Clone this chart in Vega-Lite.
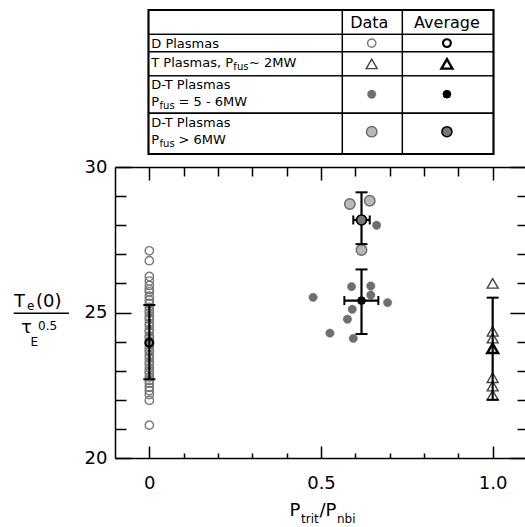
{
  "$schema": "https://vega.github.io/schema/vega-lite/v6.json",
  "background": "white",
  "padding": {"left": 12, "top": 9, "right": 0, "bottom": 0},
  "config": {
    "font": "DejaVu Sans",
    "view": {"stroke": null},
    "axis": {"labelFont": "DejaVu Sans", "labelFontSize": 18, "labelColor": "black", "tickColor": "black", "domainColor": "black", "tickWidth": 1.5, "domainWidth": 1.5, "grid": false, "labelFlush": false, "labelOverlap": false}
  },
  "datasets": {
    "pts": [
      {"x": 0, "y": 27.12, "kind": "D"}, {"x": 0, "y": 26.78, "kind": "D"}, {"x": 0, "y": 26.24, "kind": "D"}, {"x": 0, "y": 26.08, "kind": "D"},
      {"x": 0, "y": 25.93, "kind": "D"}, {"x": 0, "y": 25.79, "kind": "D"}, {"x": 0, "y": 25.71, "kind": "D"}, {"x": 0, "y": 25.56, "kind": "D"},
      {"x": 0, "y": 25.42, "kind": "D"}, {"x": 0, "y": 25.31, "kind": "D"}, {"x": 0, "y": 25.18, "kind": "D"}, {"x": 0, "y": 25.07, "kind": "D"},
      {"x": 0, "y": 24.98, "kind": "D"}, {"x": 0, "y": 24.86, "kind": "D"}, {"x": 0, "y": 24.77, "kind": "D"}, {"x": 0, "y": 24.63, "kind": "D"},
      {"x": 0, "y": 24.55, "kind": "D"}, {"x": 0, "y": 24.41, "kind": "D"}, {"x": 0, "y": 24.33, "kind": "D"}, {"x": 0, "y": 24.19, "kind": "D"},
      {"x": 0, "y": 24.12, "kind": "D"}, {"x": 0, "y": 24.01, "kind": "D"}, {"x": 0, "y": 23.93, "kind": "D"}, {"x": 0, "y": 23.82, "kind": "D"},
      {"x": 0, "y": 23.71, "kind": "D"}, {"x": 0, "y": 23.64, "kind": "D"}, {"x": 0, "y": 23.52, "kind": "D"}, {"x": 0, "y": 23.43, "kind": "D"},
      {"x": 0, "y": 23.3, "kind": "D"}, {"x": 0, "y": 23.22, "kind": "D"}, {"x": 0, "y": 23.09, "kind": "D"}, {"x": 0, "y": 22.98, "kind": "D"},
      {"x": 0, "y": 22.91, "kind": "D"}, {"x": 0, "y": 22.78, "kind": "D"}, {"x": 0, "y": 22.66, "kind": "D"}, {"x": 0, "y": 22.57, "kind": "D"},
      {"x": 0, "y": 22.43, "kind": "D"}, {"x": 0, "y": 22.31, "kind": "D"}, {"x": 0, "y": 22.18, "kind": "D"}, {"x": 0, "y": 21.98, "kind": "D"},
      {"x": 0, "y": 21.13, "kind": "D"},
      {"x": 1, "y": 26.0, "kind": "T"}, {"x": 1, "y": 24.35, "kind": "T"}, {"x": 1, "y": 24.12, "kind": "T"},
      {"x": 1, "y": 22.76, "kind": "T"}, {"x": 1, "y": 22.47, "kind": "T"}, {"x": 1, "y": 22.16, "kind": "T"},
      {"x": 0.477, "y": 25.52, "kind": "DT56"}, {"x": 0.589, "y": 25.89, "kind": "DT56"}, {"x": 0.645, "y": 25.91, "kind": "DT56"},
      {"x": 0.694, "y": 25.34, "kind": "DT56"}, {"x": 0.591, "y": 25.11, "kind": "DT56"}, {"x": 0.577, "y": 24.77, "kind": "DT56"},
      {"x": 0.526, "y": 24.29, "kind": "DT56"}, {"x": 0.594, "y": 24.11, "kind": "DT56"}, {"x": 0.645, "y": 25.6, "kind": "DT56"},
      {"x": 0.662, "y": 28.0, "kind": "DT56"},
      {"x": 0.584, "y": 28.73, "kind": "DT6"}, {"x": 0.642, "y": 28.84, "kind": "DT6"}, {"x": 0.618, "y": 27.15, "kind": "DT6"}
    ],
    "avgs": [
      {"kind": "D avg", "x": 0, "y": 23.96, "ylo": 22.71, "yhi": 25.26},
      {"kind": "T avg", "x": 1, "y": 23.77, "ylo": 22.0, "yhi": 25.51},
      {"kind": "DT56 avg", "x": 0.618, "y": 25.41, "ylo": 24.26, "yhi": 26.48, "xlo": 0.568, "xhi": 0.667},
      {"kind": "DT6 avg", "x": 0.618, "y": 28.18, "ylo": 27.35, "yhi": 29.13, "xlo": 0.594, "xhi": 0.642}
    ],
    "cells": [
      {"c0": 0, "c1": 56.2, "r0": 0, "r1": 16.9}, {"c0": 56.2, "c1": 73.6, "r0": 0, "r1": 16.9}, {"c0": 73.6, "c1": 100, "r0": 0, "r1": 16.9},
      {"c0": 0, "c1": 56.2, "r0": 16.9, "r1": 29.0}, {"c0": 56.2, "c1": 73.6, "r0": 16.9, "r1": 29.0}, {"c0": 73.6, "c1": 100, "r0": 16.9, "r1": 29.0},
      {"c0": 0, "c1": 56.2, "r0": 29.0, "r1": 45.8}, {"c0": 56.2, "c1": 73.6, "r0": 29.0, "r1": 45.8}, {"c0": 73.6, "c1": 100, "r0": 29.0, "r1": 45.8},
      {"c0": 0, "c1": 56.2, "r0": 45.8, "r1": 71.7}, {"c0": 56.2, "c1": 73.6, "r0": 45.8, "r1": 71.7}, {"c0": 73.6, "c1": 100, "r0": 45.8, "r1": 71.7},
      {"c0": 0, "c1": 56.2, "r0": 71.7, "r1": 100}, {"c0": 56.2, "c1": 73.6, "r0": 71.7, "r1": 100}, {"c0": 73.6, "c1": 100, "r0": 71.7, "r1": 100}
    ],
    "ttext": [
      {"t": "Data", "tx": 64.0, "ty": 9.0, "kind": "head"},
      {"t": "Average", "tx": 86.5, "ty": 9.0, "kind": "head"},
      {"t": "D Plasmas", "tx": 0.8, "ty": 23.3, "kind": "label"},
      {"t": "T Plasmas, P", "tx": 0.8, "ty": 36.8, "kind": "label"},
      {"t": "fus", "tx": 24.6, "ty": 36.8, "kind": "sub"},
      {"t": "~ 2MW", "tx": 29.1, "ty": 36.8, "kind": "label"},
      {"t": "D-T Plasmas", "tx": 0.8, "ty": 52.3, "kind": "label"},
      {"t": "P", "tx": 0.8, "ty": 63.9, "kind": "label"},
      {"t": "fus", "tx": 3.2, "ty": 63.9, "kind": "sub"},
      {"t": "= 5 - 6MW", "tx": 8.7, "ty": 63.9, "kind": "label"},
      {"t": "D-T Plasmas", "tx": 0.8, "ty": 78.5, "kind": "label"},
      {"t": "P", "tx": 0.8, "ty": 90.3, "kind": "label"},
      {"t": "fus", "tx": 3.2, "ty": 90.3, "kind": "sub"},
      {"t": "> 6MW", "tx": 8.7, "ty": 90.3, "kind": "label"}
    ],
    "tsym": [
      {"kind": "D", "tx": 64.7, "ty": 23.0}, {"kind": "D avg", "tx": 86.5, "ty": 23.0},
      {"kind": "T", "tx": 64.7, "ty": 37.4}, {"kind": "T avg", "tx": 86.5, "ty": 37.4},
      {"kind": "DT56", "tx": 64.7, "ty": 58.5}, {"kind": "DT56 avg", "tx": 86.5, "ty": 58.5},
      {"kind": "DT6", "tx": 64.7, "ty": 84.5}, {"kind": "DT6 avg", "tx": 86.5, "ty": 84.5}
    ]
  },
  "spacing": 13,
  "bounds": "flush",
  "center": true,
  "vconcat": [
    {
      "width": 345,
      "height": 144,
      "layer": [
        {
          "data": {"name": "cells"},
          "mark": {"type": "rect", "fill": "white", "stroke": "black", "strokeWidth": 1.3},
          "encoding": {
            "x": {"field": "c0", "type": "quantitative", "scale": {"domain": [0, 100], "nice": false, "zero": false}, "axis": null},
            "x2": {"field": "c1"},
            "y": {"field": "r0", "type": "quantitative", "scale": {"domain": [0, 100], "nice": false, "zero": false, "reverse": true}, "axis": null},
            "y2": {"field": "r1"}
          }
        },
        {
          "data": {"values": [{"c0": 0, "c1": 100, "r0": 0, "r1": 100}]},
          "mark": {"type": "rect", "filled": false, "stroke": "black", "strokeWidth": 2},
          "encoding": {
            "x": {"field": "c0", "type": "quantitative", "axis": null},
            "x2": {"field": "c1"},
            "y": {"field": "r0", "type": "quantitative", "axis": null},
            "y2": {"field": "r1"}
          }
        },
        {
          "data": {"name": "ttext"},
          "transform": [{"filter": "datum.kind == 'head'"}],
          "mark": {"type": "text", "fontSize": 16, "align": "center", "baseline": "middle", "color": "black"},
          "encoding": {
            "x": {"field": "tx", "type": "quantitative", "axis": null},
            "y": {"field": "ty", "type": "quantitative", "axis": null},
            "text": {"field": "t"}
          }
        },
        {
          "data": {"name": "ttext"},
          "transform": [{"filter": "datum.kind == 'label'"}],
          "mark": {"type": "text", "fontSize": 13, "align": "left", "baseline": "middle", "color": "black"},
          "encoding": {
            "x": {"field": "tx", "type": "quantitative", "axis": null},
            "y": {"field": "ty", "type": "quantitative", "axis": null},
            "text": {"field": "t"}
          }
        },
        {
          "data": {"name": "ttext"},
          "transform": [{"filter": "datum.kind == 'sub'"}],
          "mark": {"type": "text", "fontSize": 10, "align": "left", "baseline": "middle", "dy": 4, "color": "black"},
          "encoding": {
            "x": {"field": "tx", "type": "quantitative", "axis": null},
            "y": {"field": "ty", "type": "quantitative", "axis": null},
            "text": {"field": "t"}
          }
        },
        {
          "data": {"name": "tsym"},
          "mark": {"type": "point", "filled": true, "opacity": 1},
          "encoding": {
            "x": {"field": "tx", "type": "quantitative", "axis": null},
            "y": {"field": "ty", "type": "quantitative", "axis": null},
            "shape": {"field": "kind", "type": "nominal", "legend": null, "scale": {"domain": ["D", "T", "DT56", "DT6", "D avg", "T avg", "DT56 avg", "DT6 avg"], "range": ["circle", "triangle-up", "circle", "circle", "circle", "triangle-up", "circle", "circle"]}},
            "fill": {"field": "kind", "type": "nominal", "legend": null, "scale": {"domain": ["D", "T", "DT56", "DT6", "D avg", "T avg", "DT56 avg", "DT6 avg"], "range": ["transparent", "transparent", "#6e6e6e", "#b8b8b8", "transparent", "transparent", "#000000", "#777777"]}},
            "stroke": {"field": "kind", "type": "nominal", "legend": null, "scale": {"domain": ["D", "T", "DT56", "DT6", "D avg", "T avg", "DT56 avg", "DT6 avg"], "range": ["#7a7a7a", "#444444", "#6e6e6e", "#6a6a6a", "#000000", "#000000", "#000000", "#000000"]}},
            "size": {"field": "kind", "type": "nominal", "legend": null, "scale": {"type": "ordinal", "domain": ["D", "T", "DT56", "DT6", "D avg", "T avg", "DT56 avg", "DT6 avg"], "range": [70, 120, 70, 110, 60, 120, 60, 100]}},
            "strokeWidth": {"field": "kind", "type": "nominal", "legend": null, "scale": {"type": "ordinal", "domain": ["D", "T", "DT56", "DT6", "D avg", "T avg", "DT56 avg", "DT6 avg"], "range": [1.4, 1.4, 0.5, 1.4, 2.2, 2.4, 1, 1.6]}}
          }
        }
      ]
    },
    {
      "width": 412,
      "height": 291,
      "resolve": {"axis": {"x": "independent", "y": "independent"}},
      "layer": [
        {
          "data": {"name": "pts"},
          "mark": {"type": "point", "filled": true, "opacity": 1},
          "encoding": {
            "x": {"field": "x", "type": "quantitative", "scale": {"domain": [-0.1, 1.1], "nice": false, "zero": false},
                  "axis": {"orient": "bottom", "values": [0, 0.5, 1], "labelExpr": "datum.value == 0 ? '0' : format(datum.value, '.1f')", "tickSize": -12, "labelPadding": 28, "title": null, "domain": true}},
            "y": {"field": "y", "type": "quantitative", "scale": {"domain": [20, 30], "nice": false, "zero": false},
                  "axis": {"orient": "left", "values": [20, 25, 30], "tickSize": -16, "labelPadding": 24, "title": null, "domain": true, "labelBaseline": "middle"}},
            "shape": {"field": "kind", "type": "nominal", "legend": null, "scale": {"domain": ["D", "T", "DT56", "DT6", "D avg", "T avg", "DT56 avg", "DT6 avg"], "range": ["circle", "triangle-up", "circle", "circle", "circle", "triangle-up", "circle", "circle"]}},
            "fill": {"field": "kind", "type": "nominal", "legend": null, "scale": {"domain": ["D", "T", "DT56", "DT6", "D avg", "T avg", "DT56 avg", "DT6 avg"], "range": ["transparent", "transparent", "#6e6e6e", "#b8b8b8", "transparent", "transparent", "#000000", "#777777"]}},
            "stroke": {"field": "kind", "type": "nominal", "legend": null, "scale": {"domain": ["D", "T", "DT56", "DT6", "D avg", "T avg", "DT56 avg", "DT6 avg"], "range": ["#7a7a7a", "#444444", "#6e6e6e", "#6a6a6a", "#000000", "#000000", "#000000", "#000000"]}},
            "size": {"field": "kind", "type": "nominal", "legend": null, "scale": {"type": "ordinal", "domain": ["D", "T", "DT56", "DT6", "D avg", "T avg", "DT56 avg", "DT6 avg"], "range": [70, 120, 70, 110, 60, 120, 60, 100]}},
            "strokeWidth": {"field": "kind", "type": "nominal", "legend": null, "scale": {"type": "ordinal", "domain": ["D", "T", "DT56", "DT6", "D avg", "T avg", "DT56 avg", "DT6 avg"], "range": [1.4, 1.4, 0.5, 1.4, 2.2, 2.4, 1, 1.6]}}
          }
        },
        {
          "data": {"name": "avgs"},
          "mark": {"type": "rule", "color": "black", "strokeWidth": 2.2},
          "encoding": {
            "x": {"field": "x", "type": "quantitative", "axis": {"orient": "bottom", "values": [0.1, 0.2, 0.3, 0.4, 0.6, 0.7, 0.8, 0.9], "tickSize": -5, "labels": false, "domain": false, "title": null}},
            "y": {"field": "ylo", "type": "quantitative", "axis": {"orient": "left", "values": [21, 22, 23, 24, 26, 27, 28, 29], "tickSize": -11, "labels": false, "domain": false, "title": null}},
            "y2": {"field": "yhi"}
          }
        },
        {
          "data": {"name": "avgs"},
          "transform": [{"filter": "isValid(datum.xlo)"}],
          "mark": {"type": "rule", "color": "black", "strokeWidth": 2.2},
          "encoding": {
            "x": {"field": "xlo", "type": "quantitative", "axis": {"orient": "top", "values": [0, 0.5, 1], "tickSize": -13, "labels": false, "domain": true, "title": null}},
            "x2": {"field": "xhi"},
            "y": {"field": "y", "type": "quantitative", "axis": {"orient": "right", "values": [20, 25, 30], "tickSize": -17, "labels": false, "domain": true, "title": null}}
          }
        },
        {
          "data": {"name": "avgs"},
          "mark": {"type": "tick", "orient": "horizontal", "size": 12, "thickness": 2, "color": "black", "opacity": 1},
          "encoding": {
            "x": {"field": "x", "type": "quantitative", "axis": {"orient": "top", "values": [0.1, 0.2, 0.3, 0.4, 0.6, 0.7, 0.8, 0.9], "tickSize": -9, "labels": false, "domain": false, "title": null}},
            "y": {"field": "yhi", "type": "quantitative", "axis": {"orient": "right", "values": [21, 22, 23, 24, 26, 27, 28, 29], "tickSize": -10, "labels": false, "domain": false, "title": null}}
          }
        },
        {
          "data": {"name": "avgs"},
          "mark": {"type": "tick", "orient": "horizontal", "size": 12, "thickness": 2, "color": "black", "opacity": 1},
          "encoding": {
            "x": {"field": "x", "type": "quantitative", "axis": null},
            "y": {"field": "ylo", "type": "quantitative", "axis": null}
          }
        },
        {
          "data": {"name": "avgs"},
          "transform": [{"filter": "isValid(datum.xlo)"}],
          "mark": {"type": "tick", "orient": "vertical", "size": 9, "thickness": 2, "color": "black", "opacity": 1},
          "encoding": {
            "x": {"field": "xlo", "type": "quantitative", "axis": null},
            "y": {"field": "y", "type": "quantitative", "axis": null}
          }
        },
        {
          "data": {"name": "avgs"},
          "transform": [{"filter": "isValid(datum.xhi)"}],
          "mark": {"type": "tick", "orient": "vertical", "size": 9, "thickness": 2, "color": "black", "opacity": 1},
          "encoding": {
            "x": {"field": "xhi", "type": "quantitative", "axis": null},
            "y": {"field": "y", "type": "quantitative", "axis": null}
          }
        },
        {
          "data": {"name": "avgs"},
          "mark": {"type": "point", "filled": true, "opacity": 1},
          "encoding": {
            "x": {"field": "x", "type": "quantitative", "axis": null},
            "y": {"field": "y", "type": "quantitative", "axis": null},
            "shape": {"field": "kind", "type": "nominal", "legend": null, "scale": {"domain": ["D", "T", "DT56", "DT6", "D avg", "T avg", "DT56 avg", "DT6 avg"], "range": ["circle", "triangle-up", "circle", "circle", "circle", "triangle-up", "circle", "circle"]}},
            "fill": {"field": "kind", "type": "nominal", "legend": null, "scale": {"domain": ["D", "T", "DT56", "DT6", "D avg", "T avg", "DT56 avg", "DT6 avg"], "range": ["transparent", "transparent", "#6e6e6e", "#b8b8b8", "transparent", "transparent", "#000000", "#777777"]}},
            "stroke": {"field": "kind", "type": "nominal", "legend": null, "scale": {"domain": ["D", "T", "DT56", "DT6", "D avg", "T avg", "DT56 avg", "DT6 avg"], "range": ["#7a7a7a", "#444444", "#6e6e6e", "#6a6a6a", "#000000", "#000000", "#000000", "#000000"]}},
            "size": {"field": "kind", "type": "nominal", "legend": null, "scale": {"type": "ordinal", "domain": ["D", "T", "DT56", "DT6", "D avg", "T avg", "DT56 avg", "DT6 avg"], "range": [70, 120, 70, 110, 60, 120, 60, 100]}},
            "strokeWidth": {"field": "kind", "type": "nominal", "legend": null, "scale": {"type": "ordinal", "domain": ["D", "T", "DT56", "DT6", "D avg", "T avg", "DT56 avg", "DT6 avg"], "range": [1.4, 1.4, 0.5, 1.4, 2.2, 2.4, 1, 1.6]}}
          }
        },
        {
          "data": {"values": [{"t": "T"}]},
          "mark": {"type": "text", "fontSize": 18, "align": "left", "baseline": "alphabetic", "dx": -101, "dy": -5.5, "color": "black"},
          "encoding": {"x": {"datum": -0.1, "type": "quantitative", "axis": null}, "y": {"datum": 25, "type": "quantitative", "axis": null}, "text": {"field": "t"}}
        },
        {
          "data": {"values": [{"t": "e"}]},
          "mark": {"type": "text", "fontSize": 12, "align": "left", "baseline": "alphabetic", "dx": -88, "dy": -2.5, "color": "black"},
          "encoding": {"x": {"datum": -0.1, "type": "quantitative", "axis": null}, "y": {"datum": 25, "type": "quantitative", "axis": null}, "text": {"field": "t"}}
        },
        {
          "data": {"values": [{"t": "(0)"}]},
          "mark": {"type": "text", "fontSize": 18, "align": "left", "baseline": "alphabetic", "dx": -79, "dy": -5.5, "color": "black"},
          "encoding": {"x": {"datum": -0.1, "type": "quantitative", "axis": null}, "y": {"datum": 25, "type": "quantitative", "axis": null}, "text": {"field": "t"}}
        },
        {
          "data": {"values": [{"t": "bar"}]},
          "mark": {"type": "rule", "color": "black", "strokeWidth": 1.5},
          "encoding": {"x": {"datum": -0.395, "type": "quantitative", "axis": null}, "x2": {"datum": -0.234}, "y": {"datum": 24.97, "type": "quantitative", "axis": null}}
        },
        {
          "data": {"values": [{"t": "τ"}]},
          "mark": {"type": "text", "fontSize": 18, "align": "left", "baseline": "alphabetic", "dx": -94, "dy": 20.5, "color": "black"},
          "encoding": {"x": {"datum": -0.1, "type": "quantitative", "axis": null}, "y": {"datum": 25, "type": "quantitative", "axis": null}, "text": {"field": "t"}}
        },
        {
          "data": {"values": [{"t": "E"}]},
          "mark": {"type": "text", "fontSize": 12, "align": "left", "baseline": "alphabetic", "dx": -84.5, "dy": 33, "color": "black"},
          "encoding": {"x": {"datum": -0.1, "type": "quantitative", "axis": null}, "y": {"datum": 25, "type": "quantitative", "axis": null}, "text": {"field": "t"}}
        },
        {
          "data": {"values": [{"t": "0.5"}]},
          "mark": {"type": "text", "fontSize": 12, "align": "left", "baseline": "alphabetic", "dx": -77, "dy": 17.5, "color": "black"},
          "encoding": {"x": {"datum": -0.1, "type": "quantitative", "axis": null}, "y": {"datum": 25, "type": "quantitative", "axis": null}, "text": {"field": "t"}}
        },
        {
          "data": {"values": [{"t": "P"}]},
          "mark": {"type": "text", "fontSize": 18, "align": "left", "baseline": "alphabetic", "dx": -31.5, "dy": 58, "color": "black"},
          "encoding": {"x": {"datum": 0.5, "type": "quantitative", "axis": null}, "y": {"datum": 20, "type": "quantitative", "axis": null}, "text": {"field": "t"}}
        },
        {
          "data": {"values": [{"t": "trit"}]},
          "mark": {"type": "text", "fontSize": 12, "align": "left", "baseline": "alphabetic", "dx": -20, "dy": 65, "color": "black"},
          "encoding": {"x": {"datum": 0.5, "type": "quantitative", "axis": null}, "y": {"datum": 20, "type": "quantitative", "axis": null}, "text": {"field": "t"}}
        },
        {
          "data": {"values": [{"t": "/P"}]},
          "mark": {"type": "text", "fontSize": 18, "align": "left", "baseline": "alphabetic", "dx": -1.5, "dy": 58, "color": "black"},
          "encoding": {"x": {"datum": 0.5, "type": "quantitative", "axis": null}, "y": {"datum": 20, "type": "quantitative", "axis": null}, "text": {"field": "t"}}
        },
        {
          "data": {"values": [{"t": "nbi"}]},
          "mark": {"type": "text", "fontSize": 12, "align": "left", "baseline": "alphabetic", "dx": 16, "dy": 65, "color": "black"},
          "encoding": {"x": {"datum": 0.5, "type": "quantitative", "axis": null}, "y": {"datum": 20, "type": "quantitative", "axis": null}, "text": {"field": "t"}}
        }
      ]
    }
  ]
}
